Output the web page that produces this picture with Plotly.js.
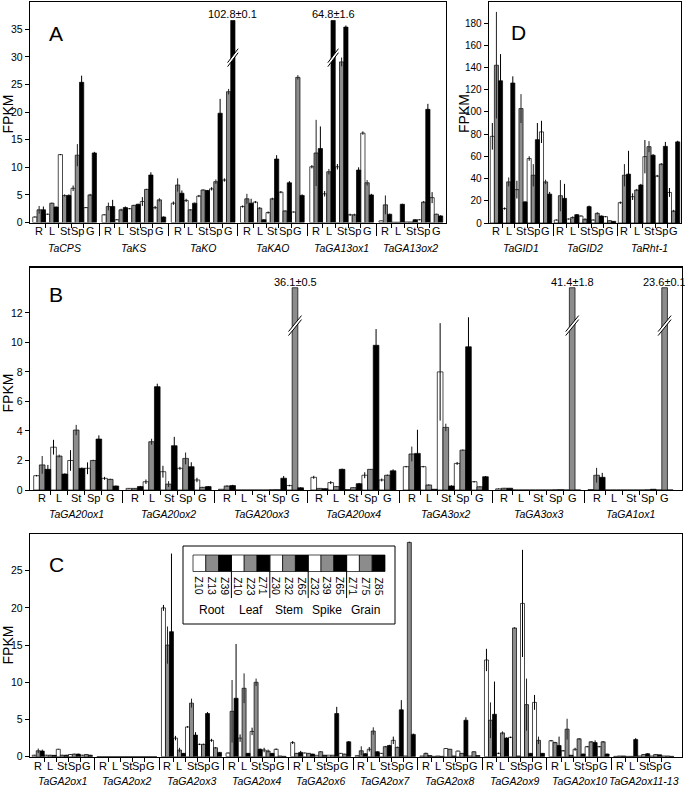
<!DOCTYPE html>
<html><head><meta charset="utf-8">
<script src="https://cdn.plot.ly/plotly-3.0.1.min.js"></script>
<style>html,body{margin:0;padding:0;background:#fff}#chart{width:685px;height:786px}</style>
</head><body><div id="chart"></div>
<script>
// ---------------- categories ----------------
const tissues = ["R", "L", "St", "Sp", "G"];
const legendTissues = ["Root", "Leaf", "Stem", "Spike", "Grain"];
const legendStages = [["Z10","Z13","Z39"],["Z10","Z23","Z71"],["Z30","Z32","Z65"],["Z32","Z39","Z65"],["Z71","Z75","Z85"]];
const stageColors = ["#ffffff", "#8c8c8c", "#000000"];

// ---------------- Panel A : biosynthesis genes ----------------
// order of 15 values per gene: R(Z10,Z13,Z39) L(Z10,Z23,Z71) St(Z30,Z32,Z65) Sp(Z32,Z39,Z65) G(Z71,Z75,Z85)
const genesA = ["TaCPS", "TaKS", "TaKO", "TaKAO", "TaGA13ox1", "TaGA13ox2"];
const fpkm_TaCPS     = [1.0, 2.3, 2.3, 1.5, 3.5, 2.8, 12.3, 4.9, 4.9, 6.2, 12.2, 25.4, 2.7, 5.0, 12.6];
const sd_TaCPS       = [0.1, 0.7, 0.6, 0.1, 0.1, 0.1, 0.1, 0.2, 0.2, 0.5, 2.0, 1.2, 0.1, 0.2, 0.2];
const fpkm_TaKS      = [1.4, 2.9, 2.9, 0.5, 2.3, 2.7, 2.5, 3.1, 3.3, 3.8, 6.0, 8.6, 2.7, 4.1, 1.0];
const sd_TaKS        = [0.1, 0.7, 1.2, 0.1, 0.2, 0.2, 0.1, 0.1, 0.1, 0.8, 0.1, 0.5, 0.3, 0.3, 0.1];
const fpkm_TaKO      = [3.5, 6.8, 5.3, 4.0, 2.3, 3.5, 4.8, 5.9, 5.8, 6.1, 7.4, 19.8, 7.7, 23.7, 102.8];
const sd_TaKO        = [0.3, 1.2, 0.5, 0.3, 0.1, 0.1, 0.2, 0.1, 0.1, 0.3, 0.4, 2.6, 0.3, 0.5, 0.1];
const fpkm_TaKAO     = [2.9, 4.3, 3.5, 3.7, 2.6, 0.5, 1.8, 4.3, 11.5, 5.5, 2.1, 7.2, 1.9, 26.3, 4.9];
const sd_TaKAO       = [0.2, 0.9, 0.8, 0.2, 0.2, 0.1, 0.2, 0.2, 0.7, 0.2, 0.1, 0.3, 0.1, 0.4, 0.2];
const fpkm_TaGA13ox1 = [10.1, 12.6, 13.4, 5.2, 9.2, 64.8, 10.1, 29.1, 35.4, 1.4, 1.4, 9.5, 16.2, 7.2, 5.0];
const sd_TaGA13ox1   = [0.3, 6.0, 4.0, 0.5, 0.5, 1.6, 0.5, 0.8, 0.3, 0.2, 0.2, 0.5, 0.3, 0.5, 0.2];
const fpkm_TaGA13ox2 = [0.3, 3.2, 1.5, 0.05, 0.05, 3.3, 0.1, 0.1, 0.5, 0.5, 3.7, 20.5, 4.5, 1.5, 1.2];
const sd_TaGA13ox2   = [0.05, 1.7, 0.1, 0, 0, 0.1, 0, 0, 0.1, 0.1, 0.2, 1.0, 1.0, 0.1, 0.1];

// ---------------- Panel D : signalling genes ----------------
const genesD = ["TaGID1", "TaGID2", "TaRht-1"];
const fpkm_TaGID1 = [78, 142, 128, 13, 37, 126, 30, 103, 19, 58, 43, 75, 82, 37, 26];
const sd_TaGID1   = [12, 48, 24, 1, 4, 6, 8, 13, 0.5, 2, 10, 15, 10, 2, 2];
const fpkm_TaGID2 = [2.7, 24.6, 22.2, 3.6, 5.0, 7.5, 6.3, 3.3, 14.7, 2.7, 8.7, 6.3, 5.7, 2.1, 1.5];
const sd_TaGID2   = [0.5, 14, 13, 0.5, 1, 0.5, 0.5, 1, 1, 0.5, 1, 0.5, 0.5, 0.3, 0.3];
const fpkm_TaRht1 = [18.3, 43, 44, 23.7, 29.7, 34.2, 59.7, 68.7, 61, 42.3, 53, 69, 27.5, 10.8, 73];
const sd_TaRht1   = [1, 10, 21, 3, 1, 1, 15, 5, 1, 1, 1, 4, 4, 1, 1];

// ---------------- Panel B : GA20ox / GA3ox / GA1ox ----------------
const genesB = ["TaGA20ox1", "TaGA20ox2", "TaGA20ox3", "TaGA20ox4", "TaGA3ox2", "TaGA3ox3", "TaGA1ox1"];
const fpkm_TaGA20ox1 = [0.97, 1.7, 1.4, 2.9, 2.3, 1.08, 2.0, 4.06, 1.47, 1.47, 2.0, 3.45, 0.79, 0.72, 0.27];
const sd_TaGA20ox1   = [0.05, 0.6, 0.3, 0.5, 0.1, 0.05, 0.7, 0.35, 0.05, 0.4, 0.05, 0.25, 0.1, 0.05, 0.03];
const fpkm_TaGA20ox2 = [0.11, 0.11, 0.23, 0.56, 3.27, 7.0, 1.24, 0.4, 3.0, 1.47, 2.14, 1.58, 0.68, 0.18, 0.23];
const sd_TaGA20ox2   = [0.02, 0.02, 0.05, 0.15, 0.2, 0.2, 0.4, 0.2, 0.6, 0.1, 0.4, 0.3, 0.15, 0.03, 0.03];
const fpkm_TaGA20ox3 = [0.05, 0.27, 0.3, 0, 0, 0, 0, 0, 0, 0.02, 0.02, 0.8, 0.3, 36.1, 0.15];
const sd_TaGA20ox3   = [0, 0.05, 0.05, 0, 0, 0, 0, 0, 0, 0, 0, 0.15, 0.05, 0.5, 0.03];
const fpkm_TaGA20ox4 = [0.86, 0.11, 0.09, 0.5, 0.23, 1.4, 0.03, 0.16, 0.43, 1.0, 1.4, 9.8, 0.68, 1.0, 1.3];
const sd_TaGA20ox4   = [0.1, 0.02, 0.02, 0.1, 0.03, 0.05, 0, 0.02, 0.05, 0.2, 0.02, 1.1, 0.1, 0.05, 0.1];
const fpkm_TaGA3ox2  = [1.58, 2.44, 2.48, 1.58, 0.34, 0.05, 8.0, 4.24, 0.27, 1.8, 2.7, 9.7, 0.56, 0.22, 0.9];
const sd_TaGA3ox2    = [0.05, 0.5, 1.6, 0.05, 0.05, 0, 3.3, 0.25, 0.05, 0.1, 0.05, 2.0, 0.05, 0.03, 0.05];
const fpkm_TaGA3ox3  = [0.08, 0.12, 0.12, 0, 0, 0, 0, 0, 0, 0, 0.01, 0.02, 0, 41.4, 0];
const sd_TaGA3ox3    = [0.02, 0.02, 0.02, 0, 0, 0, 0, 0, 0, 0, 0, 0, 0, 1.8, 0];
const fpkm_TaGA1ox1  = [0.03, 1.0, 0.86, 0, 0, 0, 0, 0, 0, 0, 0.01, 0.05, 0, 23.6, 0];
const sd_TaGA1ox1    = [0, 0.5, 0.3, 0, 0, 0, 0, 0, 0, 0, 0, 0, 0, 0.1, 0];

// ---------------- Panel C : GA2ox genes ----------------
const genesC = ["TaGA2ox1", "TaGA2ox2", "TaGA2ox3", "TaGA2ox4", "TaGA2ox6", "TaGA2ox7", "TaGA2ox8", "TaGA2ox9", "TaGA2ox10", "TaGA2ox11-13"];
const fpkm_TaGA2ox1  = [0.2, 0.8, 0.75, 0.2, 0.2, 0.18, 1.0, 0.2, 0.2, 0.3, 0.35, 0.35, 0.2, 0.3, 0.2];
const sd_TaGA2ox1    = [0.05, 0.3, 0.2, 0.05, 0.05, 0.05, 0.05, 0.05, 0.05, 0.05, 0.05, 0.05, 0.05, 0.05, 0.05];
const fpkm_TaGA2ox2  = [0, 0, 0, 0, 0, 0, 0, 0, 0, 0, 0, 0, 0, 0, 0];
const sd_TaGA2ox2    = [0, 0, 0, 0, 0, 0, 0, 0, 0, 0, 0, 0, 0, 0, 0];
const fpkm_TaGA2ox3  = [20.0, 15.0, 16.8, 2.5, 0.9, 0.45, 4.0, 7.2, 2.9, 1.66, 1.66, 5.8, 2.2, 1.2, 0.58];
const sd_TaGA2ox3    = [0.4, 2.5, 10.5, 0.3, 0.3, 0.05, 0.1, 0.6, 0.4, 0.1, 0.1, 0.2, 0.2, 0.1, 0.05];
const fpkm_TaGA2ox4  = [0.5, 6.1, 7.85, 2.5, 9.2, 0.45, 3.4, 10.0, 1.0, 0.9, 0.76, 0.45, 1.0, 0.1, 0.05];
const sd_TaGA2ox4    = [0.05, 4.2, 7.3, 0.5, 2.0, 0.05, 0.5, 0.5, 0.1, 0.3, 0.2, 0.05, 0.1, 0, 0];
const fpkm_TaGA2ox6  = [1.9, 0.45, 0.58, 0.5, 0.45, 0.35, 0.18, 0.67, 0.2, 0.2, 0.2, 5.8, 0.45, 0.35, 2.0];
const sd_TaGA2ox6    = [0.2, 0.05, 0.2, 0.05, 0.05, 0.05, 0, 0.05, 0, 0, 0, 0.9, 0.05, 0.05, 0.1];
const fpkm_TaGA2ox7  = [0.15, 0.8, 0.4, 1.0, 3.45, 0.67, 0.45, 1.35, 1.5, 2.2, 1.25, 6.3, 0.1, 28.8, 3.0];
const sd_TaGA2ox7    = [0.02, 0.6, 0.05, 0.3, 0.5, 0.05, 0.05, 0.1, 0.1, 0.5, 0.1, 1.3, 0, 0.1, 0.1];
const fpkm_TaGA2ox8  = [0.1, 0.45, 0.15, 0.05, 0.1, 0.05, 1.1, 1.0, 0.1, 0.76, 0.45, 4.9, 0.1, 0.67, 0.15];
const sd_TaGA2ox8    = [0, 0.1, 0, 0, 0, 0, 0.05, 0.05, 0, 0.05, 0.05, 0.4, 0, 0.05, 0];
const fpkm_TaGA2ox9  = [13.0, 4.9, 5.7, 0.45, 3.2, 2.5, 2.6, 17.3, 0.1, 20.6, 7.0, 0.45, 7.3, 2.2, 0.45];
const sd_TaGA2ox9    = [1.5, 2.4, 4.4, 0.1, 0.2, 0.1, 0.1, 0.1, 0, 7.2, 3.5, 0.05, 1.0, 0.5, 0.05];
const fpkm_TaGA2ox10 = [2.15, 1.9, 1.5, 0.8, 3.7, 0.2, 1.0, 2.4, 0.36, 1.35, 2.0, 1.9, 1.35, 2.0, 0.36];
const sd_TaGA2ox10   = [0.1, 0.1, 1.2, 0.1, 1.4, 0, 0.2, 0.1, 0.05, 0.1, 0.1, 0.3, 0.1, 0.1, 0.05];
const fpkm_TaGA2ox11_13 = [0.05, 0.1, 0.1, 0.05, 0.05, 2.3, 0.1, 0.3, 0.4, 0.1, 0.3, 0.25, 0.1, 0.1, 0.05];
const sd_TaGA2ox11_13   = [0, 0, 0, 0, 0, 0.2, 0, 0.05, 0.05, 0, 0.05, 0, 0, 0, 0];

// ---------------- layout / style ----------------
const W = 685, H = 786;
const FONT = "Liberation Sans, Arial, Helvetica, sans-serif";

const panels = [
  { letter: "A", genes: genesA,
    vals: [fpkm_TaCPS, fpkm_TaKS, fpkm_TaKO, fpkm_TaKAO, fpkm_TaGA13ox1, fpkm_TaGA13ox2],
    errs: [sd_TaCPS, sd_TaKS, sd_TaKO, sd_TaKAO, sd_TaGA13ox1, sd_TaGA13ox2],
    left: 30, right: 445.5, top: 2, bottom: 222.5, ymax: 39.95, dtick: 5, maxTick: 35, genePx: 69.25, margin: 0.04,
    cap: 36.6, brk: 29.5, brkDx: 5.3, brkDy: 7, brkGap: 4, capLabelY: 13.5,
    tisY: 231.5, geneY: 247.5, letterPos: [56, 33], fpkmPos: [7.5, 114], tickSize: 10.5 },
  { letter: "D", genes: genesD,
    vals: [fpkm_TaGID1, fpkm_TaGID2, fpkm_TaRht1],
    errs: [sd_TaGID1, sd_TaGID2, sd_TaRht1],
    left: 489, right: 681, top: 2, bottom: 223, ymax: 198.9, dtick: 20, maxTick: 180, genePx: 64, margin: 0.02,
    cap: 1e9, tisY: 230.5, geneY: 247.5, letterPos: [518, 32], fpkmPos: [464, 114], tickSize: 10 },
  { letter: "B", genes: genesB,
    vals: [fpkm_TaGA20ox1, fpkm_TaGA20ox2, fpkm_TaGA20ox3, fpkm_TaGA20ox4, fpkm_TaGA3ox2, fpkm_TaGA3ox3, fpkm_TaGA1ox1],
    errs: [sd_TaGA20ox1, sd_TaGA20ox2, sd_TaGA20ox3, sd_TaGA20ox4, sd_TaGA3ox2, sd_TaGA3ox3, sd_TaGA1ox1],
    left: 30, right: 682, top: 267.5, bottom: 490, ymax: 15.07, dtick: 2, maxTick: 12, genePx: 92.4, margin: 0.04,
    cap: 13.7, brk: 11.0, brkDx: 6.5, brkDy: 8, brkGap: 4, capLabelY: 282,
    tisY: 498, geneY: 514, letterPos: [56, 294], fpkmPos: [7.5, 393], tickSize: 10.5 },
  { letter: "C", genes: genesC,
    vals: [fpkm_TaGA2ox1, fpkm_TaGA2ox2, fpkm_TaGA2ox3, fpkm_TaGA2ox4, fpkm_TaGA2ox6, fpkm_TaGA2ox7, fpkm_TaGA2ox8, fpkm_TaGA2ox9, fpkm_TaGA2ox10, fpkm_TaGA2ox11_13],
    errs: [sd_TaGA2ox1, sd_TaGA2ox2, sd_TaGA2ox3, sd_TaGA2ox4, sd_TaGA2ox6, sd_TaGA2ox7, sd_TaGA2ox8, sd_TaGA2ox9, sd_TaGA2ox10, sd_TaGA2ox11_13],
    left: 30, right: 682, top: 534, bottom: 756.7, ymax: 29.93, dtick: 5, maxTick: 25, genePx: 64.6, margin: 0.035,
    cap: 1e9, tisY: 766, geneY: 781, letterPos: [56, 564], fpkmPos: [7.5, 645], tickSize: 10.5 }
];

const traces = [], shapes = [], annotations = [];
const layout = {
  width: W, height: H, margin: { l: 0, r: 0, t: 0, b: 0 },
  showlegend: false, barmode: "overlay",
  paper_bgcolor: "#ffffff", plot_bgcolor: "rgba(0,0,0,0)",
  font: { family: FONT, color: "#000" }
};
const px2x = v => v / W;
const py2y = v => 1 - v / H;

panels.forEach((p, pi) => {
  const n = pi === 0 ? "" : String(pi + 1);
  const xa = "x" + n, ya = "y" + n;
  const nG = p.genes.length;
  const xmax = (p.right - p.left) / p.genePx;
  const yPerPx = p.ymax / (p.bottom - p.top);
  const slot = (1 - 2 * p.margin) / 15;
  const xOf = (g, i) => g + p.margin + (i + 0.5) * slot;

  for (let s = 0; s < 3; s++) {
    const xs = [], ys = [], es = [];
    p.genes.forEach((gene, g) => {
      tissues.forEach((t, ti) => {
        const i = ti * 3 + s;
        const v = p.vals[g][i], e = p.errs[g][i];
        xs.push(xOf(g, i));
        if (v > p.cap) {
          ys.push(p.cap); es.push(0);
          // break mark + value label
          const xc = xOf(g, i), dx = p.brkDx / p.genePx, dy = p.brkDy * yPerPx, gp = p.brkGap * yPerPx;
          const y0 = p.brk - dy, y1 = p.brk + dy;
          shapes.push({ type: "path", xref: xa, yref: ya, layer: "above",
            path: `M ${xc - dx},${y0} L ${xc + dx},${y1} L ${xc + dx},${y1 + gp} L ${xc - dx},${y0 + gp} Z`,
            fillcolor: "#ffffff", line: { width: 0 } });
          shapes.push({ type: "line", xref: xa, yref: ya, layer: "above", x0: xc - dx, y0: y0, x1: xc + dx, y1: y1, line: { color: "#000", width: 1 } });
          shapes.push({ type: "line", xref: xa, yref: ya, layer: "above", x0: xc - dx, y0: y0 + gp, x1: xc + dx, y1: y1 + gp, line: { color: "#000", width: 1 } });
          annotations.push({ xref: xa, yref: "paper", x: xc, y: py2y(p.capLabelY), text: `${v.toFixed(1)}±${e.toFixed(1)}`,
            showarrow: false, xanchor: "center", yanchor: "middle", font: { size: 11 } });
        } else {
          ys.push(v); es.push(e);
        }
      });
    });
    traces.push({
      type: "bar", x: xs, y: ys, width: slot, xaxis: xa, yaxis: ya,
      marker: { color: stageColors[s], line: { color: "#000", width: 0.7 } },
      error_y: { type: "data", array: es, visible: true, thickness: 1, width: 0, color: s === 1 ? "#222" : "#000" },
      hoverinfo: "skip"
    });
  }

  // ticks
  const geneTicks = [], tissueTicks = [], yTicks = [];
  for (let g = 0; g < nG; g++) {
    if (g > 0) geneTicks.push(g);
    for (let t = 1; t < 5; t++) tissueTicks.push(g + p.margin + t * 3 * slot);
  }
  for (let v = 0; v <= p.maxTick; v += p.dtick) yTicks.push(v);
  layout["xaxis" + n] = {
    domain: [px2x(p.left), px2x(p.right)], anchor: ya, range: [0, xmax],
    showline: true, mirror: true, linecolor: "#000", linewidth: 1.3,
    tickmode: "array", tickvals: geneTicks, ticks: "outside", ticklen: 12, tickwidth: 1, tickcolor: "#000",
    showticklabels: false, showgrid: false, zeroline: false, fixedrange: true,
    minor: { tickmode: "array", tickvals: tissueTicks, ticks: "outside", ticklen: 4, tickwidth: 1, tickcolor: "#000", showgrid: false }
  };
  layout["yaxis" + n] = {
    domain: [py2y(p.bottom), py2y(p.top)], anchor: xa, range: [0, p.ymax],
    showline: true, mirror: true, linecolor: "#000", linewidth: 1.3,
    tickmode: "array", tickvals: yTicks, ticks: "outside", ticklen: 4, tickwidth: 1, tickcolor: "#000",
    tickfont: { size: p.tickSize, family: FONT }, showgrid: false, zeroline: false, fixedrange: true
  };

  // tissue + gene labels
  p.genes.forEach((gene, g) => {
    tissues.forEach((t, ti) => {
      annotations.push({ xref: xa, yref: "paper", x: g + p.margin + (ti * 3 + 1.5) * slot, y: py2y(p.tisY),
        text: t, showarrow: false, xanchor: "center", yanchor: "middle", font: { size: 11 } });
    });
    annotations.push({ xref: xa, yref: "paper", x: g + 0.5, y: py2y(p.geneY),
      text: `<i>${gene}</i>`, showarrow: false, xanchor: "center", yanchor: "middle", font: { size: 10.5 } });
  });
  // panel letter and FPKM title
  annotations.push({ xref: "paper", yref: "paper", x: px2x(p.letterPos[0]), y: py2y(p.letterPos[1]), text: p.letter,
    showarrow: false, xanchor: "center", yanchor: "middle", font: { size: 21 } });
  annotations.push({ xref: "paper", yref: "paper", x: px2x(p.fpkmPos[0]), y: py2y(p.fpkmPos[1]), text: "FPKM",
    textangle: -90, showarrow: false, xanchor: "center", yanchor: "middle", font: { size: 14 } });
});

// ---------------- legend (panel C) ----------------
const lg = { left: 183, right: 395, top: 546, bottom: 624, swX: 193, swW: 12.8, swTop: 555, swBot: 571.5, lblY: 586, sepBot: 598, grpY: 610 };
shapes.push({ type: "rect", xref: "paper", yref: "paper", layer: "above",
  x0: px2x(lg.left), x1: px2x(lg.right), y0: py2y(lg.bottom), y1: py2y(lg.top),
  fillcolor: "#ffffff", line: { color: "#000", width: 1 } });
legendTissues.forEach((tn, ti) => {
  legendStages[ti].forEach((st, s) => {
    const k = ti * 3 + s;
    const x0 = lg.swX + k * lg.swW;
    shapes.push({ type: "rect", xref: "paper", yref: "paper", layer: "above",
      x0: px2x(x0), x1: px2x(x0 + lg.swW), y0: py2y(lg.swBot), y1: py2y(lg.swTop),
      fillcolor: stageColors[s], line: { color: "#000", width: 0.7 } });
    annotations.push({ xref: "paper", yref: "paper", x: px2x(x0 + lg.swW / 2), y: py2y(lg.lblY), text: st,
      textangle: 90, showarrow: false, xanchor: "center", yanchor: "middle", font: { size: 10.5 } });
  });
  if (ti > 0) {
    const xs = lg.swX + ti * 3 * lg.swW;
    shapes.push({ type: "line", xref: "paper", yref: "paper", layer: "above",
      x0: px2x(xs), x1: px2x(xs), y0: py2y(lg.swTop), y1: py2y(lg.sepBot), line: { color: "#000", width: 1 } });
  }
  annotations.push({ xref: "paper", yref: "paper", x: px2x(lg.swX + (ti * 3 + 1.5) * lg.swW), y: py2y(lg.grpY), text: tn,
    showarrow: false, xanchor: "center", yanchor: "middle", font: { size: 12 } });
});

layout.shapes = shapes;
layout.annotations = annotations;
Plotly.newPlot("chart", traces, layout, { staticPlot: true, displayModeBar: false });
</script>
</body></html>
